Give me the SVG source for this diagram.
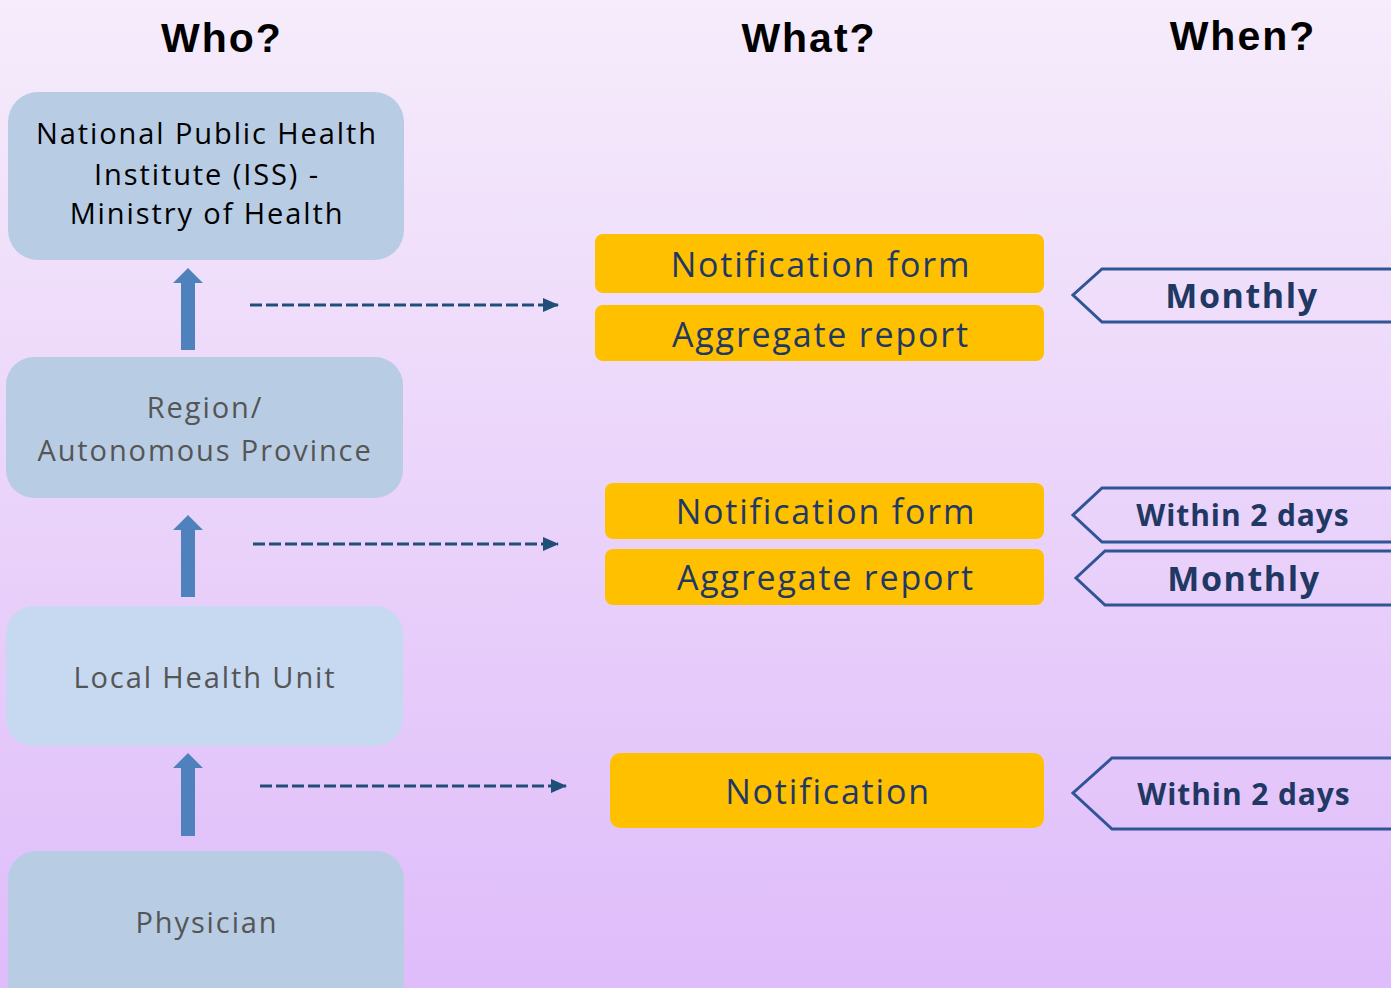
<svg xmlns="http://www.w3.org/2000/svg" width="1391" height="988" viewBox="0 0 1391 988">
<defs>
<linearGradient id="bg" x1="0" y1="0" x2="0" y2="1">
<stop offset="0" stop-color="#f6ecfb"/>
<stop offset="1" stop-color="#dfbcfa"/>
</linearGradient>
<marker id="ah" markerWidth="16" markerHeight="14" refX="15" refY="7" orient="auto" markerUnits="userSpaceOnUse" viewBox="0 0 16 14">
<path d="M0,0 L16,7 L0,14 z" fill="#1f4e79"/>
</marker>
<style>
.hd{font-family:"Liberation Sans",Arial,sans-serif;font-weight:bold;font-size:41px;letter-spacing:2px;fill:#000;text-anchor:middle}
.who{fill:#b8cce4}
.who2{fill:#c6d9f0}
.wt{font-family:"Open Sans","Noto Sans",sans-serif;font-size:29px;letter-spacing:1.9px;text-anchor:middle}
.yb{fill:#ffc000}
.yt{font-family:"Open Sans","Noto Sans",sans-serif;font-size:34px;letter-spacing:1.8px;fill:#1f3864;text-anchor:middle}
.tag{fill:none;stroke:#2f5597;stroke-width:3}
.tt{font-family:"Open Sans","Noto Sans",sans-serif;font-weight:bold;font-size:34px;letter-spacing:1.6px;fill:#1f3864;text-anchor:middle}
.tt2{font-family:"Open Sans","Noto Sans",sans-serif;font-weight:bold;font-size:30px;letter-spacing:0.9px;fill:#1f3864;text-anchor:middle}
.up{fill:#4f81bd}
.dash{stroke:#1f4e79;stroke-width:3;stroke-dasharray:12,4;fill:none}
</style>
</defs>
<rect width="1391" height="988" fill="url(#bg)"/>
<g id="headings">
<text class="hd" x="222" y="52">Who?</text>
<text class="hd" x="809" y="52">What?</text>
<text class="hd" x="1243" y="50">When?</text>
</g>
<g id="node-iss">
<rect class="who" x="8" y="92" width="396" height="168" rx="30"/>
<text class="wt" x="207" y="144" fill="#000">National Public Health</text>
<text class="wt" x="207" y="185" fill="#000">Institute (ISS) -</text>
<text class="wt" x="207" y="224" fill="#000">Ministry of Health</text>
</g>
<g id="node-region">
<rect class="who" x="6" y="357" width="397" height="141" rx="28"/>
<text class="wt" x="205" y="418" fill="#555">Region/</text>
<text class="wt" x="205" y="461" fill="#555">Autonomous Province</text>
</g>
<g id="node-lhu">
<rect class="who2" x="6" y="606" width="397" height="140" rx="28"/>
<text class="wt" x="205" y="688" fill="#555">Local Health Unit</text>
</g>
<g id="node-physician">
<rect class="who" x="8" y="851" width="396" height="160" rx="28"/>
<text class="wt" x="207" y="933" fill="#555">Physician</text>
</g>
<g id="connectors">
<path class="up" d="M181,350 V283 H173 L188,268 L203,283 H195 V350 z"/>
<path class="up" d="M181,597 V530 H173 L188,515 L203,530 H195 V597 z"/>
<path class="up" d="M181,836 V768 H173 L188,753 L203,768 H195 V836 z"/>
<line class="dash" x1="250" y1="305" x2="558" y2="305" marker-end="url(#ah)"/>
<line class="dash" x1="253" y1="544" x2="558" y2="544" marker-end="url(#ah)"/>
<line class="dash" x1="260" y1="786" x2="566" y2="786" marker-end="url(#ah)"/>
</g>
<g id="what-1a">
<rect class="yb" x="595" y="234" width="449" height="59" rx="8"/>
<text class="yt" x="821" y="277">Notification form</text>
</g>
<g id="what-1b">
<rect class="yb" x="595" y="305" width="449" height="56" rx="8"/>
<text class="yt" x="821" y="347">Aggregate report</text>
</g>
<g id="what-2a">
<rect class="yb" x="605" y="483" width="439" height="56" rx="8"/>
<text class="yt" x="826" y="524">Notification form</text>
</g>
<g id="what-2b">
<rect class="yb" x="605" y="549" width="439" height="56" rx="8"/>
<text class="yt" x="826" y="590">Aggregate report</text>
</g>
<g id="what-3">
<rect class="yb" x="610" y="753" width="434" height="75" rx="10"/>
<text class="yt" x="828" y="804">Notification</text>
</g>
<g id="when-1">
<path class="tag" d="M1395,269 H1102 L1073,295 L1102,322 H1395"/>
<text class="tt" x="1242" y="308">Monthly</text>
</g>
<g id="when-2a">
<path class="tag" d="M1395,488 H1102 L1073,515 L1102,542 H1395"/>
<text class="tt2" x="1243" y="526">Within 2 days</text>
</g>
<g id="when-2b">
<path class="tag" d="M1395,551 H1105 L1076,578 L1105,605 H1395"/>
<text class="tt" x="1244" y="591">Monthly</text>
</g>
<g id="when-3">
<path class="tag" d="M1395,758 H1112 L1073,793 L1112,829 H1395"/>
<text class="tt2" x="1244" y="805">Within 2 days</text>
</g>
</svg>
